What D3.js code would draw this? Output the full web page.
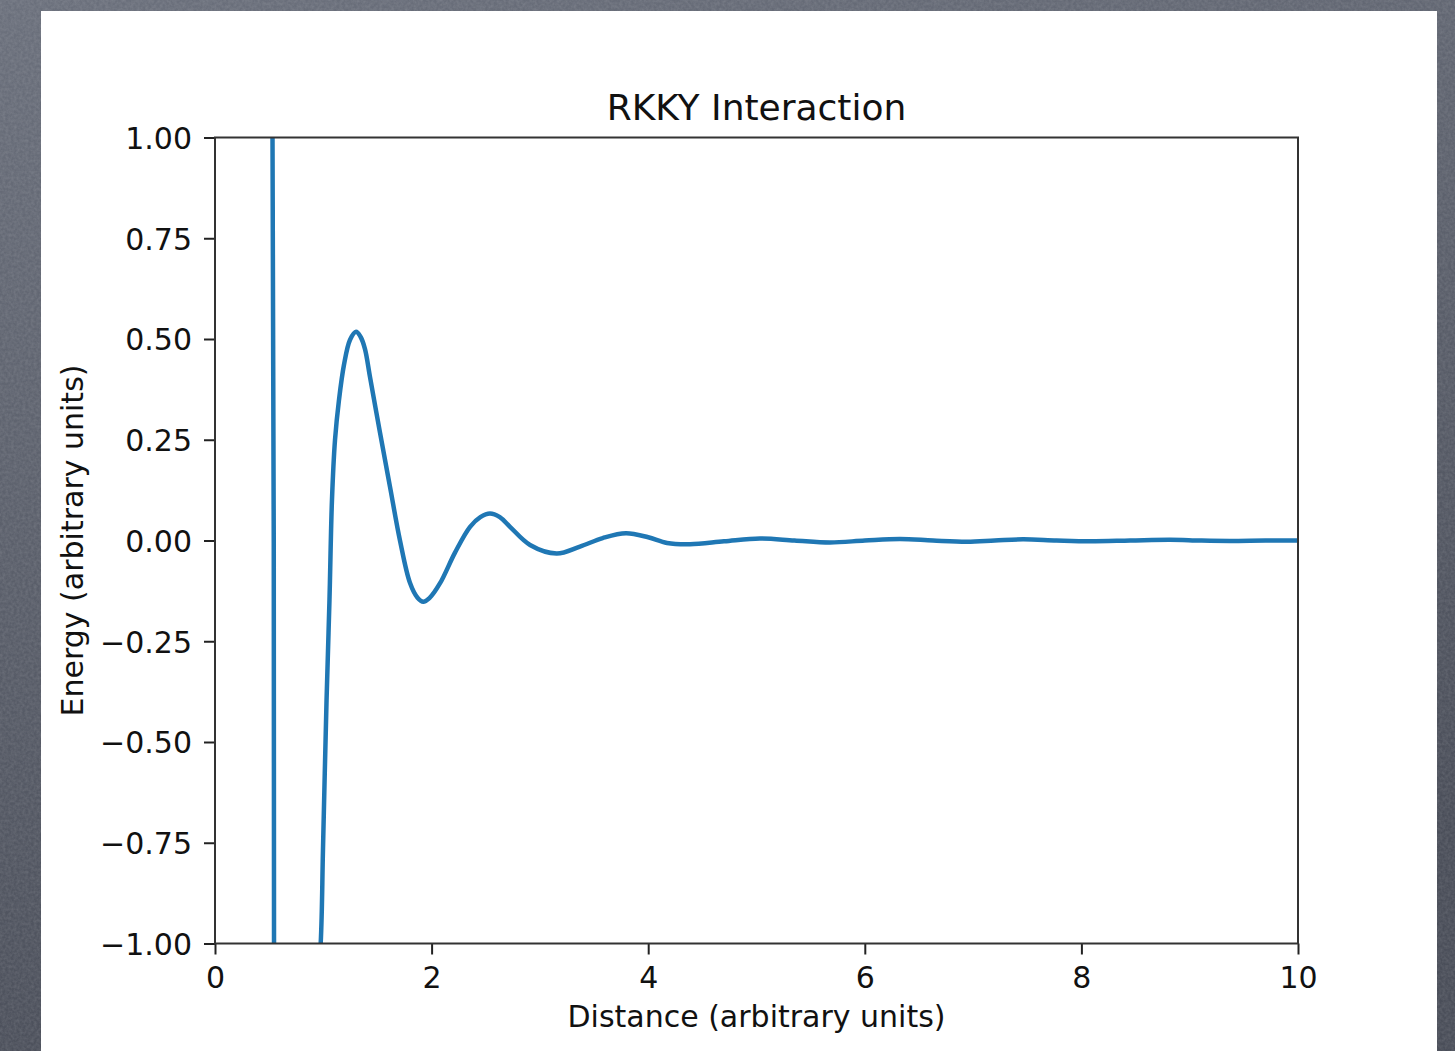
<!DOCTYPE html>
<html>
<head>
<meta charset="utf-8">
<script src="https://cdn.jsdelivr.net/npm/d3@7"></script>
<style>
  body { margin: 0; background: #555a66; }
  svg { display: block; }
  text { font-family: "DejaVu Sans", sans-serif; fill: #111; }
</style>
</head>
<body>
<div id="chart"></div>
<script>
// values (curve leaves the frame near x=0.53 and re-enters near x=0.98)
const distance = [0.45, 0.50, 0.531, 0.545, 0.56, 0.70, 0.90, 0.976, 0.997, 1.030, 1.057, 1.080, 1.108, 1.145, 1.191, 1.247, 1.302, 1.345, 1.385, 1.431, 1.524, 1.616, 1.708, 1.80, 1.87, 1.923, 1.98, 2.078, 2.216, 2.355, 2.45, 2.539, 2.63, 2.724, 2.909, 3.155, 3.37, 3.58, 3.795, 4.00, 4.174, 4.386, 4.70, 5.032, 5.35, 5.679, 6.00, 6.325, 6.63, 6.944, 7.20, 7.461, 7.77, 8.079, 8.45, 8.818, 9.10, 9.372, 9.70, 10.0]
const energy   = [1.6, 1.25, 1.0, -1.0, -1.3, -1.6, -1.3, -1.0, -0.768, -0.396, -0.148, 0.100, 0.249, 0.349, 0.436, 0.498, 0.518, 0.505, 0.475, 0.406, 0.267, 0.133, 0.0, -0.105, -0.142, -0.152, -0.143, -0.106, -0.03, 0.034, 0.058, 0.067, 0.058, 0.034, -0.011, -0.032, -0.015, 0.006, 0.018, 0.008, -0.006, -0.009, -0.002, 0.005, 0.0, -0.005, 0.0, 0.004, 0.0, -0.003, 0.0, 0.003, 0.0, -0.002, 0.0, 0.002, 0.0, -0.001, 0.0, 0.0]

const xTicks = [0, 2, 4, 6, 8, 10]
const yTicks = [-1.0, -0.75, -0.5, -0.25, 0.0, 0.25, 0.5, 0.75, 1.0]

const chartTitle = "RKKY Interaction"
const xTitle = "Distance (arbitrary units)"
const yTitle = "Energy (arbitrary units)"

const width = 1455, height = 1051
const margin = {top: 137.5, right: 1455 - 1298, bottom: 1051 - 943.5, left: 215}

let svg = d3.select("#chart")
  .append("svg")
  .attr("width", width)
  .attr("height", height)

let defs = svg.append("defs")
let grad = defs.append("linearGradient")
  .attr("id", "bg").attr("x1", 0).attr("y1", 0).attr("x2", 0.3).attr("y2", 1)
grad.append("stop").attr("offset", "0%").attr("stop-color", "#6b707c")
grad.append("stop").attr("offset", "100%").attr("stop-color", "#4a4e59")

// chalkboard-ish grain
let grain = defs.append("filter").attr("id", "grain")
grain.append("feTurbulence")
  .attr("type", "fractalNoise").attr("baseFrequency", 0.35).attr("numOctaves", 2).attr("seed", 3)
grain.append("feColorMatrix")
  .attr("type", "matrix")
  .attr("values", "0 0 0 0 1  0 0 0 0 1  0 0 0 0 1  0 0 0 0.18 -0.05")

svg.append("rect").attr("width", width).attr("height", height).attr("fill", "url(#bg)")
svg.append("rect").attr("width", width).attr("height", height).attr("filter", "url(#grain)")

// white slide card
svg.append("rect")
  .attr("x", 41).attr("y", 11)
  .attr("width", 1396).attr("height", height)
  .attr("fill", "#ffffff")

let x = d3.scaleLinear().domain([0, 10]).range([margin.left, width - margin.right])
let y = d3.scaleLinear().domain([-1, 1]).range([height - margin.bottom, margin.top])

defs.append("clipPath").attr("id", "plotClip")
  .append("rect")
  .attr("x", x(0)).attr("y", y(1))
  .attr("width", x(10) - x(0)).attr("height", y(-1) - y(1))

let points = distance.map(function(d, i) { return {x: d, y: energy[i]} })

let line = d3.line()
  .x(function(d) { return x(d.x) })
  .y(function(d) { return y(d.y) })
  .curve(d3.curveCatmullRom.alpha(0.5))

svg.append("path")
  .datum(points)
  .attr("clip-path", "url(#plotClip)")
  .attr("d", line)
  .attr("fill", "none")
  .attr("stroke", "#1f77b4")
  .attr("stroke-width", 4.5)
  .attr("stroke-linejoin", "round")

// axes
let xAxis = d3.axisBottom(x).tickValues(xTicks).tickFormat(d3.format("d"))
  .tickSize(11).tickSizeOuter(0).tickPadding(12)
let yAxis = d3.axisLeft(y).tickValues(yTicks).tickFormat(d3.format(".2f"))
  .tickSize(11).tickSizeOuter(0).tickPadding(12)

let gx = svg.append("g").attr("transform", "translate(0," + y(-1) + ")").call(xAxis)
let gy = svg.append("g").attr("transform", "translate(" + x(0) + ",0)").call(yAxis)

;[gx, gy].forEach(function(g) {
  g.select(".domain").remove()
  g.selectAll(".tick line").attr("stroke", "#222").attr("stroke-width", 2)
  g.selectAll(".tick text").style("font-size", "30px").attr("fill", "#111")
})
gy.selectAll(".tick text").attr("dy", "0.36em")

// frame
svg.append("rect")
  .attr("x", x(0)).attr("y", y(1))
  .attr("width", x(10) - x(0)).attr("height", y(-1) - y(1))
  .attr("fill", "none")
  .attr("stroke", "#333")
  .attr("stroke-width", 2)

svg.append("text")
  .attr("x", (x(0) + x(10)) / 2).attr("y", 120)
  .attr("text-anchor", "middle")
  .style("font-size", "36px")
  .text(chartTitle)

svg.append("text")
  .attr("x", (x(0) + x(10)) / 2).attr("y", 1027)
  .attr("text-anchor", "middle")
  .style("font-size", "30px")
  .text(xTitle)

svg.append("text")
  .attr("transform", "translate(83," + (y(-1) + y(1)) / 2 + ") rotate(-90)")
  .attr("text-anchor", "middle")
  .style("font-size", "30px")
  .text(yTitle)
</script>
</body>
</html>
